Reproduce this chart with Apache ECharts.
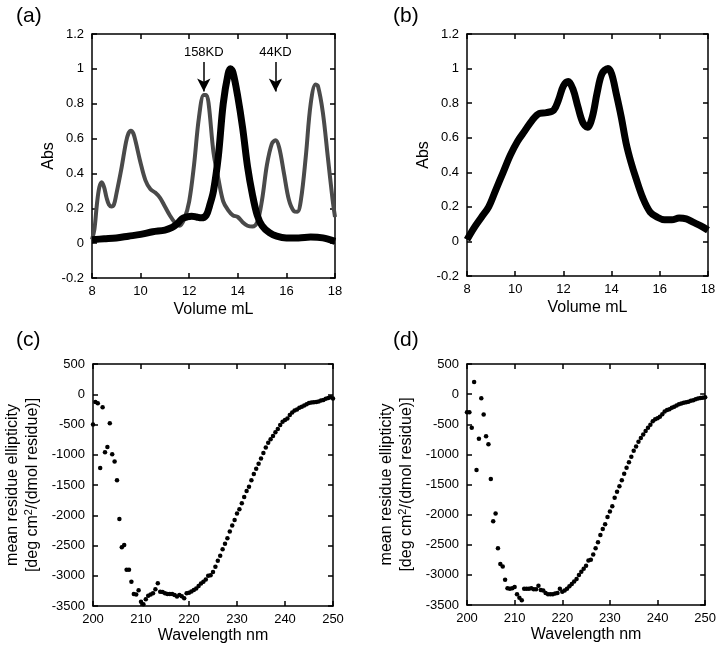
<!DOCTYPE html>
<html><head><meta charset="utf-8">
<script src="https://cdn.jsdelivr.net/npm/echarts/dist/echarts.min.js"></script>
<style>html,body{margin:0;padding:0;background:#fff}#chart{width:719px;height:648px}</style>
</head><body><div id="chart"></div>
<script>
// ---------- data ----------
const aGrayVolume = [8.0,8.1,8.2,8.3,8.4,8.5,8.6,8.7,8.8,8.9,9.0,9.2,9.4,9.5,9.6,9.7,9.8,10.0,10.2,10.4,10.6,10.8,11.0,11.2,11.4,11.6,11.8,12.0,12.2,12.4,12.6,12.7,12.8,13.0,13.2,13.4,13.6,13.8,14.0,14.2,14.4,14.6,14.8,15.0,15.2,15.4,15.55,15.7,15.9,16.1,16.3,16.45,16.6,16.8,17.0,17.2,17.3,17.5,17.7,17.9,18.0];
const aGrayAbs    = [0.02,0.08,0.22,0.32,0.35,0.32,0.26,0.22,0.21,0.22,0.28,0.42,0.58,0.63,0.645,0.63,0.58,0.46,0.36,0.31,0.29,0.26,0.21,0.16,0.12,0.10,0.14,0.24,0.45,0.72,0.85,0.85,0.80,0.52,0.37,0.24,0.19,0.16,0.15,0.12,0.10,0.095,0.12,0.25,0.45,0.57,0.59,0.55,0.40,0.25,0.185,0.18,0.25,0.50,0.80,0.91,0.90,0.75,0.50,0.25,0.15];
const aBlackVolume = [8.0,8.5,9.0,9.5,10.0,10.5,11.0,11.3,11.5,11.7,11.9,12.1,12.3,12.5,12.7,12.85,13.0,13.2,13.4,13.6,13.7,13.8,14.0,14.2,14.4,14.6,14.8,15.0,15.3,15.6,16.0,16.5,17.0,17.5,18.0];
const aBlackAbs    = [0.02,0.025,0.03,0.04,0.05,0.065,0.075,0.09,0.11,0.14,0.15,0.155,0.15,0.145,0.16,0.22,0.30,0.50,0.80,0.97,1.0,0.98,0.84,0.66,0.44,0.28,0.16,0.10,0.06,0.04,0.03,0.03,0.035,0.03,0.01];
const markerVolume = [12.6, 15.55];
const markerText   = ['158KD', '44KD'];
const bVolume = [8.0,8.3,8.6,8.9,9.2,9.5,9.8,10.1,10.4,10.7,11.0,11.3,11.6,11.8,12.0,12.2,12.4,12.6,12.8,13.0,13.2,13.4,13.6,13.85,14.0,14.2,14.4,14.6,14.8,15.0,15.3,15.6,15.9,16.2,16.5,16.8,17.1,17.4,17.7,18.0];
const bAbs    = [0.01,0.08,0.14,0.20,0.30,0.40,0.50,0.58,0.64,0.70,0.74,0.745,0.76,0.82,0.90,0.925,0.88,0.78,0.69,0.66,0.72,0.86,0.97,1.0,0.97,0.85,0.72,0.57,0.46,0.37,0.25,0.17,0.14,0.125,0.125,0.135,0.13,0.11,0.09,0.065];
const wavelength = [200,200.5,201,201.5,202,202.5,203,203.5,204,204.5,205,205.5,206,206.5,207,207.5,208,208.5,209,209.5,210,210.5,211,211.5,212,212.5,213,213.5,214,214.5,215,215.5,216,216.5,217,217.5,218,218.5,219,219.5,220,220.5,221,221.5,222,222.5,223,223.5,224,224.5,225,225.5,226,226.5,227,227.5,228,228.5,229,229.5,230,230.5,231,231.5,232,232.5,233,233.5,234,234.5,235,235.5,236,236.5,237,237.5,238,238.5,239,239.5,240,240.5,241,241.5,242,242.5,243,243.5,244,244.5,245,245.5,246,246.5,247,247.5,248,248.5,249,249.5,250];
const cEllipticity = [-500,-130,-150,-1220,-215,-960,-870,-480,-990,-1110,-1420,-2060,-2530,-2490,-2900,-2900,-3100,-3300,-3310,-3240,-3430,-3470,-3390,-3330,-3310,-3290,-3225,-3125,-3265,-3270,-3290,-3300,-3300,-3300,-3320,-3345,-3320,-3340,-3370,-3290,-3280,-3260,-3235,-3210,-3170,-3130,-3100,-3060,-3000,-2990,-2940,-2850,-2750,-2670,-2560,-2470,-2380,-2270,-2170,-2080,-1970,-1900,-1800,-1700,-1600,-1530,-1420,-1320,-1230,-1150,-1060,-970,-880,-800,-745,-690,-630,-575,-510,-455,-425,-400,-345,-300,-270,-250,-225,-205,-185,-167,-145,-135,-132,-128,-120,-105,-95,-75,-60,-50,-70];
const dEllipticity = [-300,-300,-560,200,-1260,-740,-70,-340,-700,-830,-1410,-2110,-1980,-2560,-2820,-2860,-3080,-3220,-3230,-3220,-3200,-3320,-3380,-3420,-3230,-3230,-3230,-3220,-3240,-3240,-3180,-3250,-3260,-3300,-3320,-3320,-3320,-3310,-3300,-3230,-3280,-3260,-3230,-3190,-3150,-3110,-3070,-3000,-2950,-2900,-2850,-2760,-2750,-2660,-2560,-2460,-2340,-2240,-2160,-2040,-1950,-1860,-1720,-1620,-1530,-1430,-1320,-1220,-1130,-1040,-940,-870,-790,-730,-670,-610,-560,-510,-450,-415,-400,-375,-335,-290,-265,-250,-225,-210,-190,-168,-155,-145,-135,-125,-110,-100,-86,-72,-65,-60,-50];

// ---------- helpers ----------
const FONT = "'Liberation Sans', Arial, Helvetica, sans-serif";
const zip = (xs, ys) => xs.map((x, i) => [x, ys[i]]);
const lineStyleAxis = { color: '#000', width: 1.5 };

function xPair(gi, min, max, interval, name, nameGap) {
  const base = {
    type: 'value', gridIndex: gi, min, max, interval,
    axisLine: { onZero: false, lineStyle: lineStyleAxis },
    axisTick: { inside: true, length: 5, lineStyle: lineStyleAxis },
    splitLine: { show: false }
  };
  return [
    Object.assign({}, base, {
      position: 'bottom', name, nameLocation: 'middle', nameGap,
      nameTextStyle: { fontSize: 16, color: '#000', fontFamily: FONT },
      axisLabel: { color: '#000', fontSize: 13, margin: 7, fontFamily: FONT, formatter: v => String(v) }
    }),
    Object.assign({}, base, { position: 'top', axisLabel: { show: false } })
  ];
}
function yPair(gi, min, max, interval, name, nameGap, nameStyle, fmt) {
  const base = {
    type: 'value', gridIndex: gi, min, max, interval,
    axisLine: { onZero: false, lineStyle: lineStyleAxis },
    axisTick: { inside: true, length: 5, lineStyle: lineStyleAxis },
    splitLine: { show: false }
  };
  return [
    Object.assign({}, base, {
      position: 'left', name, nameLocation: 'middle', nameGap, nameRotate: 90,
      nameTextStyle: nameStyle,
      axisLabel: { color: '#000', fontSize: 13, margin: 8, fontFamily: FONT, formatter: fmt }
    }),
    Object.assign({}, base, { position: 'right', axisLabel: { show: false } })
  ];
}
const absFmt = v => String(Math.round(v * 10) / 10);
const ellFmt = v => String(Math.round(v));
const absName = { fontSize: 16, color: '#000', fontFamily: FONT };
const ellName = {
  rich: {
    t: { fontSize: 16, color: '#000', fontFamily: FONT, lineHeight: 20 },
    s: { fontSize: 11, color: '#000', fontFamily: FONT, lineHeight: 20, verticalAlign: 'top' }
  }
};
const ellText = '{t|mean residue ellipticity}\n{t|[deg cm}{s|2}{t|/(dmol residue)]}';

const xAxes = [].concat(
  xPair(0, 8, 18, 2, 'Volume mL', 24),
  xPair(1, 8, 18, 2, 'Volume mL', 24),
  xPair(2, 200, 250, 10, 'Wavelength nm', 22),
  xPair(3, 200, 250, 10, 'Wavelength nm', 22)
);
const yAxes = [].concat(
  yPair(0, -0.2, 1.2, 0.2, 'Abs', 35, absName, absFmt),
  yPair(1, -0.2, 1.2, 0.2, 'Abs', 35, absName, absFmt),
  yPair(2, -3500, 500, 500, ellText, 50, ellName, ellFmt),
  yPair(3, -3500, 500, 500, ellText, 50, ellName, ellFmt)
);

const arrowLines = markerVolume.map((v, i) => [
  { coord: [v, 1.04], name: markerText[i] },
  { coord: [v, 0.87] }
]);

const option = {
  backgroundColor: '#fff',
  animation: false,
  grid: [
    { left: 92, top: 34, width: 243, height: 244 },
    { left: 467, top: 34, width: 241, height: 242 },
    { left: 93, top: 364, width: 240, height: 242 },
    { left: 467, top: 364, width: 241, height: 241 }
  ],
  xAxis: xAxes,
  yAxis: yAxes,
  graphic: [
    { type: 'text', left: 16, top: 6, style: { text: '(a)', font: "21px 'Liberation Sans', Arial", fill: '#000' } },
    { type: 'text', left: 393, top: 6, style: { text: '(b)', font: "21px 'Liberation Sans', Arial", fill: '#000' } },
    { type: 'text', left: 16, top: 330, style: { text: '(c)', font: "21px 'Liberation Sans', Arial", fill: '#000' } },
    { type: 'text', left: 393, top: 330, style: { text: '(d)', font: "21px 'Liberation Sans', Arial", fill: '#000' } }
  ],
  series: [
    {
      type: 'line', xAxisIndex: 0, yAxisIndex: 0, data: zip(aGrayVolume, aGrayAbs),
      smooth: 0.35, showSymbol: false, lineStyle: { color: '#4a4a4a', width: 4 },
      markLine: {
        silent: true, symbol: ['none', 'arrow'], symbolSize: [10, 13],
        lineStyle: { color: '#000', width: 1.5, type: 'solid' },
        label: { show: true, position: 'start', formatter: p => p.name, color: '#000', fontSize: 13, fontFamily: FONT, distance: 3 },
        data: arrowLines
      }
    },
    {
      type: 'line', xAxisIndex: 0, yAxisIndex: 0, data: zip(aBlackVolume, aBlackAbs),
      smooth: 0.35, showSymbol: false, lineStyle: { color: '#000', width: 7 }
    },
    {
      type: 'line', xAxisIndex: 2, yAxisIndex: 2, data: zip(bVolume, bAbs),
      smooth: 0.35, showSymbol: false, lineStyle: { color: '#000', width: 7 }
    },
    {
      type: 'scatter', xAxisIndex: 4, yAxisIndex: 4, data: zip(wavelength, cEllipticity),
      symbol: 'circle', symbolSize: 4.5, itemStyle: { color: '#000', opacity: 1 }
    },
    {
      type: 'scatter', xAxisIndex: 6, yAxisIndex: 6, data: zip(wavelength, dEllipticity),
      symbol: 'circle', symbolSize: 4.5, itemStyle: { color: '#000', opacity: 1 }
    }
  ]
};
const chart = echarts.init(document.getElementById('chart'), null, { renderer: 'canvas' });
chart.setOption(option);
</script></body></html>
